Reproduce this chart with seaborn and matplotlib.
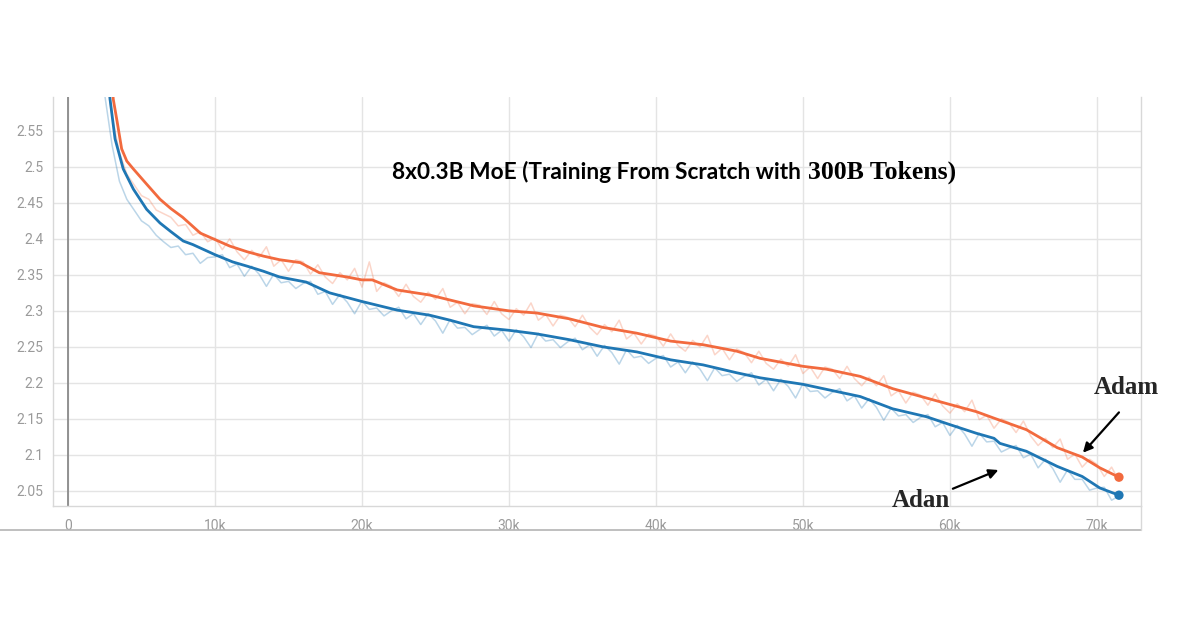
import numpy as np
import pandas as pd
import matplotlib
matplotlib.use("Agg")
import matplotlib.pyplot as plt
import seaborn as sns
from matplotlib.lines import Line2D
from matplotlib.ticker import FuncFormatter, FixedLocator

# ---------------- data ----------------
raw_steps = np.arange(2000, 71501, 500)

adam_raw = [
    2.72, 2.64, 2.57, 2.52, 2.49, 2.475, 2.46, 2.455, 2.44, 2.435, 2.43, 2.418, 2.42, 2.405, 2.41, 2.396,
    2.401, 2.385, 2.400, 2.382, 2.371, 2.384, 2.374, 2.389, 2.362, 2.371, 2.355, 2.371,
    2.368, 2.351, 2.364, 2.347, 2.338, 2.353, 2.343, 2.359, 2.333, 2.368, 2.327, 2.339,
    2.334, 2.320, 2.337, 2.320, 2.312, 2.326, 2.316, 2.331, 2.305, 2.312, 2.296, 2.310,
    2.308, 2.295, 2.313, 2.296, 2.288, 2.303, 2.294, 2.311, 2.287, 2.295, 2.279, 2.294,
    2.291, 2.278, 2.294, 2.277, 2.267, 2.281, 2.271, 2.287, 2.261, 2.269, 2.254, 2.268,
    2.265, 2.251, 2.268, 2.252, 2.244, 2.259, 2.250, 2.266, 2.239, 2.248, 2.232, 2.247,
    2.242, 2.228, 2.244, 2.227, 2.219, 2.233, 2.223, 2.239, 2.213, 2.222, 2.206, 2.222,
    2.219, 2.206, 2.223, 2.206, 2.196, 2.208, 2.196, 2.210, 2.182, 2.189, 2.172, 2.187,
    2.183, 2.169, 2.185, 2.168, 2.158, 2.171, 2.160, 2.176, 2.149, 2.155, 2.137, 2.150,
    2.145, 2.131, 2.147, 2.126, 2.113, 2.123, 2.110, 2.122, 2.094, 2.101, 2.083, 2.094,
    2.087, 2.070, 2.083, 2.064,
]

adan_raw = [
    2.70, 2.60, 2.53, 2.48, 2.455, 2.44, 2.425, 2.418, 2.405, 2.396, 2.388, 2.39, 2.378, 2.38, 2.366, 2.374,
    2.375, 2.378, 2.360, 2.365, 2.348, 2.362, 2.351, 2.334, 2.351, 2.339, 2.341, 2.331,
    2.338, 2.341, 2.323, 2.327, 2.309, 2.323, 2.312, 2.296, 2.314, 2.302, 2.304, 2.293,
    2.300, 2.305, 2.289, 2.296, 2.281, 2.296, 2.286, 2.269, 2.288, 2.276, 2.277, 2.267,
    2.274, 2.280, 2.265, 2.273, 2.258, 2.274, 2.264, 2.249, 2.269, 2.258, 2.260, 2.249,
    2.257, 2.262, 2.246, 2.253, 2.237, 2.252, 2.242, 2.226, 2.246, 2.235, 2.237, 2.227,
    2.234, 2.238, 2.222, 2.229, 2.214, 2.229, 2.219, 2.203, 2.221, 2.210, 2.212, 2.202,
    2.209, 2.214, 2.197, 2.205, 2.189, 2.205, 2.195, 2.179, 2.199, 2.188, 2.189, 2.179,
    2.187, 2.192, 2.175, 2.182, 2.165, 2.178, 2.166, 2.148, 2.165, 2.154, 2.156, 2.145,
    2.152, 2.156, 2.139, 2.145, 2.127, 2.141, 2.129, 2.112, 2.130, 2.118, 2.119, 2.104,
    2.109, 2.113, 2.096, 2.101, 2.082, 2.094, 2.081, 2.062, 2.079, 2.066, 2.066, 2.051,
    2.054, 2.055, 2.037, 2.043,
]

adam_smooth_x = [2900, 3080, 3350, 3650, 4000, 4450, 5350, 6260, 7000, 7800,
                 9000, 10000, 11000, 12200, 13300, 14400, 15800, 17100, 19000, 20000,
                 20700, 22400, 24600, 26000, 27600, 30000, 31900, 34100, 36400, 38700,
                 41000, 43200, 45500, 47100, 50000, 51600, 53900, 56100, 58400, 60000,
                 61800, 63000, 65200, 66800, 67300, 69000, 70200, 71500]
adam_smooth_y = [2.64, 2.594, 2.562, 2.525, 2.508, 2.497, 2.476, 2.455, 2.442, 2.430,
                 2.408, 2.399, 2.390, 2.382, 2.376, 2.371, 2.367, 2.353, 2.347, 2.343,
                 2.343, 2.329, 2.322, 2.315, 2.307, 2.300, 2.297, 2.289, 2.277, 2.269,
                 2.258, 2.253, 2.244, 2.234, 2.223, 2.219, 2.209, 2.192, 2.179, 2.170,
                 2.160, 2.151, 2.135, 2.116, 2.110, 2.097, 2.082, 2.069]

adan_smooth_x = [2700, 2860, 3200, 3760, 4450, 5350, 6260, 7000, 7840, 8500,
                 10000, 11200, 12200, 13300, 14400, 16200, 17800, 20000, 22400, 24600,
                 26000, 27600, 30000, 31900, 34100, 36400, 38700, 41000, 43200, 45500,
                 47100, 50000, 51600, 53900, 56100, 58400, 60000, 61800, 63000, 63400,
                 65200, 66800, 67300, 69000, 70200, 71500]
adan_smooth_y = [2.64, 2.594, 2.539, 2.497, 2.469, 2.441, 2.422, 2.410, 2.397, 2.392,
                 2.378, 2.368, 2.362, 2.355, 2.347, 2.340, 2.325, 2.313, 2.301, 2.294,
                 2.287, 2.278, 2.273, 2.268, 2.260, 2.250, 2.243, 2.232, 2.225, 2.214,
                 2.207, 2.198, 2.191, 2.181, 2.164, 2.153, 2.142, 2.130, 2.123, 2.116,
                 2.105, 2.089, 2.084, 2.070, 2.054, 2.044]

x_ticks = [0, 10000, 20000, 30000, 40000, 50000, 60000, 70000]
x_tick_labels = ["0", "10k", "20k", "30k", "40k", "50k", "60k", "70k"]
y_ticks = [2.05, 2.1, 2.15, 2.2, 2.25, 2.3, 2.35, 2.4, 2.45, 2.5, 2.55]

title_sans = "8x0.3B MoE (Training From Scratch with "
title_serif = "300B Tokens)"

ADAM = "#f26a3e"
ADAN = "#1f77b4"

# ---------------- figure ----------------
sns.set_theme(style="whitegrid")
plt.rcParams['font.family'] = ['Roboto', 'DejaVu Sans']

fig = plt.figure(figsize=(12, 6.3), dpi=100)
L, R, T, B = 53, 1141, 97, 506
ax = fig.add_axes([L / 1200, 1 - B / 630, (R - L) / 1200, (B - T) / 630])
ax.set_facecolor("white")

raw_df = pd.DataFrame({"step": raw_steps, "Adam": adam_raw, "Adan": adan_raw})
adam_df = pd.DataFrame({"step": adam_smooth_x, "loss": adam_smooth_y})
adan_df = pd.DataFrame({"step": adan_smooth_x, "loss": adan_smooth_y})

sns.lineplot(data=raw_df, x="step", y="Adan", ax=ax, color=ADAN, alpha=0.3, lw=1.1, legend=False)
sns.lineplot(data=raw_df, x="step", y="Adam", ax=ax, color=ADAM, alpha=0.28, lw=1.1, legend=False)
sns.lineplot(data=adan_df, x="step", y="loss", ax=ax, color=ADAN, lw=2.0, legend=False)
sns.lineplot(data=adam_df, x="step", y="loss", ax=ax, color=ADAM, lw=2.0, legend=False)
sns.scatterplot(x=[adam_smooth_x[-1]], y=[adam_smooth_y[-1]], ax=ax, color=ADAM, s=45,
                edgecolor="none", zorder=5, legend=False)
sns.scatterplot(x=[adan_smooth_x[-1]], y=[adan_smooth_y[-1]], ax=ax, color=ADAN, s=45,
                edgecolor="none", zorder=5, legend=False)

ax.axvline(0, color="#8a8a8a", lw=1.3, zorder=1)

ax.set_xlim(-1020, 73000)
ax.set_ylim(2.029, 2.597)
ax.xaxis.set_major_locator(FixedLocator(x_ticks))
ax.set_xticklabels(x_tick_labels)
ax.yaxis.set_major_locator(FixedLocator(y_ticks))
ax.yaxis.set_major_formatter(FuncFormatter(lambda v, p: ("%.2f" % v).rstrip("0").rstrip(".")))
ax.set_xlabel("")
ax.set_ylabel("")
ax.grid(True, color="#e4e4e4", lw=1.0)
ax.tick_params(axis="both", length=4, width=1, color="#dcdcdc", labelcolor="#9a9a9a",
               labelsize=10, pad=3)
ax.tick_params(axis="x", pad=5)
for side in ["left", "bottom", "right"]:
    ax.spines[side].set_visible(True)
    ax.spines[side].set_color("#d8d8d8")
    ax.spines[side].set_linewidth(1.0)
ax.spines["top"].set_visible(False)

# outer frame lines below the plot
fig.add_artist(Line2D([0, R / 1200], [1 - 530 / 630] * 2, color="#b4b4b4", lw=1.2,
                      transform=fig.transFigure))
fig.add_artist(Line2D([R / 1200] * 2, [1 - 530 / 630, 1 - B / 630], color="#d8d8d8", lw=1.0,
                      transform=fig.transFigure))

# title (two fonts)
ty = 1 - 172 / 630
fig.text(806 / 1200, ty, title_sans, ha="right", va="center", fontsize=16.3,
         fontweight="bold", family=["Lato", "DejaVu Sans"], color="black")
fig.text(808 / 1200, ty, title_serif, ha="left", va="center", fontsize=18.5,
         fontweight="bold", family=["Liberation Serif", "DejaVu Serif"], color="black")

# annotations
arrow = dict(arrowstyle="-|>", color="black", lw=1.6, mutation_scale=14, shrinkA=0, shrinkB=0)
ax.annotate("", xy=(69050, 2.103), xytext=(71500, 2.159), arrowprops=arrow, annotation_clip=False)
ax.annotate("", xy=(63300, 2.079), xytext=(60200, 2.053), arrowprops=arrow, annotation_clip=False)
ax.text(72000, 2.193, "Adam", ha="center", va="center", fontsize=18, fontweight="bold",
        family=["Liberation Serif", "DejaVu Serif"], clip_on=False)
ax.text(58000, 2.036, "Adan", ha="center", va="center", fontsize=18, fontweight="bold",
        family=["Liberation Serif", "DejaVu Serif"], clip_on=False)

fig.savefig("out.png", dpi=100, facecolor="white")
